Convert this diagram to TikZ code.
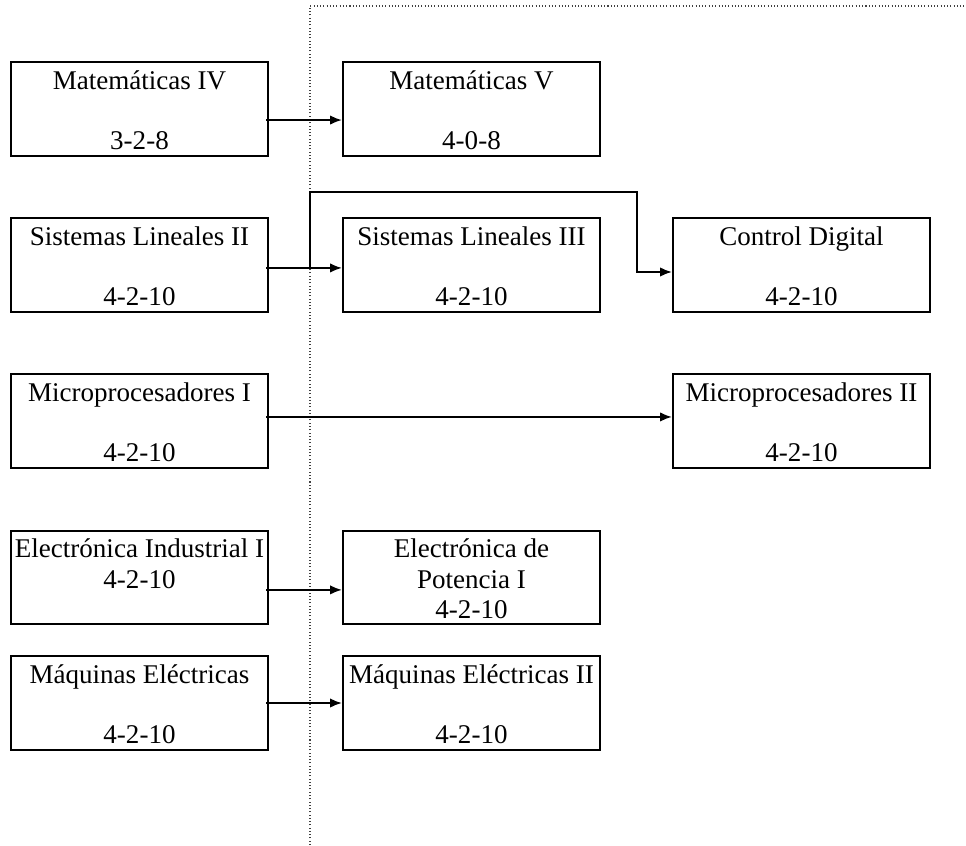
\documentclass[tikz,border=0pt]{standalone}
\usepackage{fontspec}
\setmainfont{Liberation Serif}
\usetikzlibrary{arrows.meta}

\begin{document}
\begin{tikzpicture}[x=0.444pt, y=-0.444pt]

	\tikzstyle{subject_box} = [draw=black, line width=0.9pt, minimum width=114.1pt, minimum height=41.7pt, inner sep=0pt, align=center, font=\fontsize{12}{13.5}\selectfont]
	\tikzstyle{link} = [-{Latex[length=5.3pt,width=4.2pt]}, line width=0.85pt, shorten <=-1.2pt]
	\tikzstyle{semester_line} = [densely dotted, line width=0.45pt, black!75]

	\useasboundingbox (0,0) rectangle (966,845);
	\draw[semester_line] (310,845) -- (310,6) -- (966,6);

%------------------------------------------------------------
	\node[subject_box] (mat4) at (139.5,109) {\strut Matemáticas IV\\\mbox{}\\3-2-8};
	\node[subject_box] (mat5) at (471.5,109) {\strut Matemáticas V\\\mbox{}\\4-0-8};

	\path[link] ([yshift=-4.9pt]mat4.east) edge ([yshift=-4.9pt]mat5.west);
%------------------------------------------------------------
	\node[subject_box] (sl2) at (139.5,265) {\strut Sistemas Lineales II\\\mbox{}\\4-2-10};
	\node[subject_box] (sl3) at (471.5,265) {\strut Sistemas Lineales III\\\mbox{}\\4-2-10};
	\node[subject_box] (cd) at (801.5,265) {\strut Control Digital\\\mbox{}\\4-2-10};

	\coordinate (split) at (310,268);
	\coordinate (turn) at (637,192);
	\coordinate (cd_in) at ([yshift=-3.1pt]cd.west);

	\path[link] ([yshift=-1.3pt]sl2.east) edge ([yshift=-1.3pt]sl3.west);
	\draw[link, shorten <=0pt] (split) -- (split |- turn) -- (turn) -- (turn |- cd_in) -- (cd_in);
%------------------------------------------------------------
	\node[subject_box] (mp1) at (139.5,421) {\strut Microprocesadores I\\\mbox{}\\4-2-10};
	\node[subject_box] (mp2) at (801.5,421) {\strut Microprocesadores II\\\mbox{}\\4-2-10};

	\path[link] ([yshift=1.8pt]mp1.east) edge ([yshift=1.8pt]mp2.west);
%------------------------------------------------------------
	\node[subject_box] (ei1) at (139.5,577.5) {\strut Electrónica Industrial I\\4-2-10\\\mbox{}};
	\node[subject_box] (ep1) at (471.5,577.5) {\strut Electrónica de\\Potencia I\\4-2-10};

	\path[link] ([yshift=-5.5pt]ei1.east) edge ([yshift=-5.5pt]ep1.west);
%------------------------------------------------------------
	\node[subject_box] (me1) at (139.5,703) {\strut Máquinas Eléctricas\\\mbox{}\\4-2-10};
	\node[subject_box] (me2) at (471.5,703) {\strut Máquinas Eléctricas II\\\mbox{}\\4-2-10};

	\path[link] (me1) edge (me2);

\end{tikzpicture}
\end{document}
